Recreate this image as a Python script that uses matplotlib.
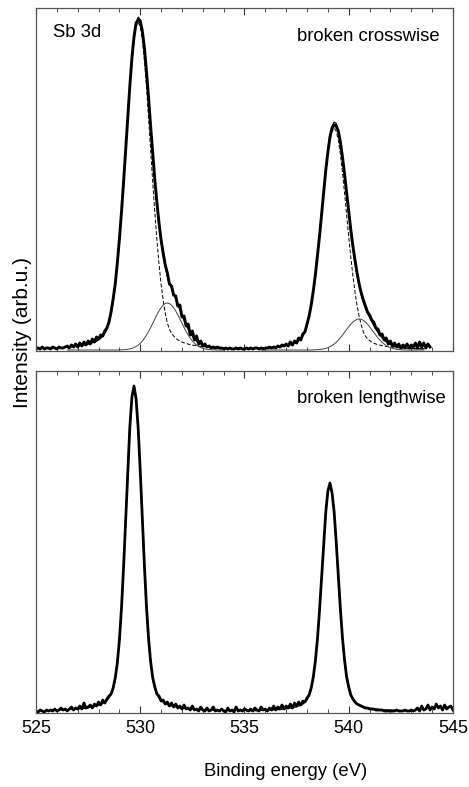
import numpy as np
import matplotlib
matplotlib.use("Agg")
from matplotlib import pyplot as plt
from matplotlib.ticker import MultipleLocator

plt.rcParams['font.family'] = ['Liberation Sans', 'DejaVu Sans']

# Energy grids (eV), 0.1 eV steps
e_top = np.round(np.arange(525.0, 543.95, 0.1), 1)      # measured, top panel
e_win_a = np.round(np.arange(526.5, 534.05, 0.1), 1)    # fit window, 3d5/2 crosswise
e_win_b = np.round(np.arange(535.8, 543.65, 0.1), 1)    # fit window, 3d3/2 crosswise
e_bot = np.round(np.arange(525.0, 545.05, 0.1), 1)      # measured, bottom panel
e_win_c = np.round(np.arange(525.7, 533.75, 0.1), 1)    # fit window, lengthwise
e_win_d = np.round(np.arange(535.1, 543.15, 0.1), 1)

# broken crosswise - measured spectrum (arb.u.)
cross_meas = [
    1, 2, 1, 3, 1, 2, 2, 1, 3, 2, 1, 3, 2, 2, 3,
    4, 2, 5, 3, 6, 3, 7, 4, 8, 5, 9, 6, 11, 8, 13, 11, 15, 14, 19, 22, 28, 38, 51, 66, 87,
    111, 138, 168, 200, 233, 264, 292, 313, 327, 330,
    329, 319, 302, 278, 252, 223, 196, 170, 147, 127, 110, 97, 85, 77, 66, 64, 55, 54, 44, 45,
    33, 34, 24, 26, 15, 19, 10, 14, 6, 9, 4, 6, 3, 4, 2, 3, 2, 3, 2, 2, 1,
    2, 1, 2, 1, 1, 2, 1, 2, 1, 1, 2, 1, 2, 1, 2, 2, 1,
    2, 1, 2, 2, 3, 2, 3, 2, 4, 3, 5, 4, 6, 4, 8, 5, 9, 7, 12, 10, 16, 18, 26, 34, 45,
    59, 75, 94, 114, 136, 158, 180, 198, 213, 222, 225,
    224, 219, 208, 193, 176, 157, 138, 120, 104, 90, 77, 66, 57, 50, 44, 38, 35, 30, 28, 22,
    21, 15, 16, 10, 12, 6, 9, 4, 7, 3, 6, 2, 5, 3, 6, 2, 5, 3, 7, 2, 8, 3, 7,
    2, 6, 3,
]

# broken crosswise - fit components
cross_c1 = [
    2.8, 3.0, 3.3, 3.4, 3.6, 3.9, 4.3, 4.6, 4.9, 5.2, 5.9, 6.6, 7.2, 7.9, 8.9, 10.2, 11.8,
    14.1, 16.7, 20.7, 26.9, 36.7, 49.9, 65.6, 85.9, 109.9, 137.1, 167.3, 199.1, 231.9,
    262.4, 289.3, 310.3, 323.4, 328,
    323.4, 310.3, 289.3, 262.4, 231.9, 199.1, 167.3, 137.1, 109.9, 85.9, 65.6, 49.9, 36.7,
    26.9, 20.7, 16.7, 14.1, 11.8, 10.2, 8.9, 7.9, 7.2, 6.6, 5.9, 5.2, 4.9, 4.6, 4.3, 3.9,
    3.6, 3.4, 3.3, 3.1, 2.9, 2.6, 2.5, 2.4, 2.3, 2.1, 2.0, 2.0,
]
cross_c2 = [
    0, 0, 0, 0, 0, 0, 0, 0, 0, 0, 0, 0, 0, 0, 0, 0, 0, 0, 0, 0, 0, 0, 0, 0, 0,
    0.1, 0.2, 0.3, 0.5, 0.7, 1.1, 1.7, 2.5, 3.5, 4.9, 6.8, 9.0, 11.7, 14.9, 18.5, 22.5,
    26.8, 31.1, 35.3, 39.1, 42.4, 44.9, 46.5, 47, 46.5, 44.9, 42.4, 39.1, 35.3, 31.1, 26.8,
    22.5, 18.5, 14.9, 11.7, 9.0, 6.8, 4.9, 3.5, 2.5, 1.7, 1.1, 0.7, 0.5, 0.3, 0.2, 0.1,
    0, 0, 0, 0,
]
cross_c3 = [
    1.8, 1.9, 2.0, 2.2, 2.3, 2.4, 2.7, 2.9, 3.1, 3.3, 3.6, 4.0, 4.4, 4.9, 5.3, 6.0, 6.9,
    8.0, 9.5, 11.3, 14.0, 18.2, 24.9, 33.7, 44.4, 58.2, 74.4, 92.8, 113.2, 134.8, 157.0,
    177.6, 195.8, 210.0, 218.9, 222,
    218.9, 210.0, 195.8, 177.6, 157.0, 134.8, 113.2, 92.8, 74.4, 58.2, 44.4, 33.7, 24.9,
    18.2, 14.0, 11.3, 9.5, 8.0, 6.9, 6.0, 5.3, 4.9, 4.4, 4.0, 3.6, 3.3, 3.1, 2.9, 2.7, 2.4,
    2.3, 2.2, 2.0, 1.9, 1.8, 1.7, 1.6, 1.5, 1.4, 1.3, 1.3, 1.2, 1.2,
]
cross_c4 = [
    0, 0, 0, 0, 0, 0, 0, 0, 0, 0, 0, 0, 0, 0, 0, 0, 0, 0, 0, 0, 0, 0, 0, 0, 0,
    0.1, 0.2, 0.3, 0.5, 0.7, 1.1, 1.6, 2.4, 3.3, 4.5, 5.9, 7.7, 9.8, 12.2, 14.9, 17.7,
    20.5, 23.3, 25.8, 28.0, 29.6, 30.7, 31, 30.7, 29.6, 28.0, 25.8, 23.3, 20.5, 17.7,
    14.9, 12.2, 9.8, 7.7, 5.9, 4.5, 3.3, 2.4, 1.6, 1.1, 0.7, 0.5, 0.3, 0.2, 0.1,
    0, 0, 0, 0, 0, 0, 0, 0, 0,
]

# broken lengthwise - measured spectrum
length_meas = [
    1, 0, 2, 1, 0, 2, 1,
    2, 1, 3, 1, 2, 4, 2, 3, 1, 3, 5, 2, 4, 3, 6, 3, 9, 4, 5, 7, 4, 8, 6, 10, 7, 12, 9, 13,
    16, 18, 24, 34, 49, 72, 104, 145, 192, 241, 285, 315,
    326,
    313, 284, 241, 193, 146, 105, 73, 50, 34, 25, 18, 16, 11, 12, 8, 10, 6, 9, 5, 8, 4, 6,
    3, 7, 3, 4, 2, 6, 2, 3, 1, 5, 2, 1, 4, 1, 2, 5, 1, 2,
    1, 3, 1, 0, 4, 1, 2, 0, 5, 1, 2, 1, 3,
    2, 1, 3, 1, 4, 2, 1, 5, 2, 3, 1, 4, 2, 6, 2, 5, 3, 7, 3, 6, 4, 8, 4, 9, 6, 10, 7, 11,
    10, 14, 17, 24, 35, 51, 73, 102, 135, 169, 200, 221,
    229,
    219, 200, 170, 136, 103, 74, 52, 35, 25, 17, 13, 10, 8, 7, 6, 5, 4, 4, 3, 3, 3, 2, 2,
    2, 2, 1, 1, 1, 1, 1, 1, 2, 1, 1, 1, 2, 1, 1, 2, 1,
    2, 4, 1, 6, 2, 3, 7, 2, 5, 3, 8, 4, 6, 2, 7, 3, 5, 6, 2,
]

# broken lengthwise - fitted envelopes
length_fit_a = [
    1.6, 1.7, 1.8, 1.8, 1.9, 2.0, 2.1, 2.3, 2.4, 2.5, 2.6, 2.8, 2.9, 3.1, 3.3, 3.4, 3.6,
    3.9, 4.2, 4.7, 5.2, 5.5, 6.2, 6.8, 7.5, 8.5, 9.8, 11.4, 14.0, 17.6, 23.4, 33.2, 48.8,
    72.2, 104.0, 144.6, 191.8, 240.5, 284.4, 314.3,
    325,
    314.3, 284.4, 240.5, 191.8, 144.6, 104.0, 72.2, 48.8, 33.2, 23.4, 17.6, 14.0, 11.4,
    9.8, 8.5, 7.5, 6.8, 6.2, 5.5, 5.2, 4.7, 4.2, 3.9, 3.6, 3.4, 3.3, 3.1, 2.9, 2.8, 2.6,
    2.5, 2.4, 2.3, 2.1, 2.0, 1.9, 1.8, 1.8, 1.7, 1.6,
]
length_fit_b = [
    1.1, 1.2, 1.3, 1.3, 1.4, 1.4, 1.5, 1.6, 1.7, 1.8, 1.8, 2.0, 2.1, 2.2, 2.3, 2.4, 2.5,
    2.8, 3.0, 3.3, 3.6, 3.9, 4.3, 4.8, 5.2, 5.9, 6.8, 8.0, 9.8, 12.3, 16.4, 23.3, 34.2,
    50.6, 73.0, 101.5, 134.5, 168.7, 199.5, 220.5,
    228,
    220.5, 199.5, 168.7, 134.5, 101.5, 73.0, 50.6, 34.2, 23.3, 16.4, 12.3, 9.8, 8.0, 6.8,
    5.9, 5.2, 4.8, 4.3, 3.9, 3.6, 3.3, 3.0, 2.8, 2.5, 2.4, 2.3, 2.2, 2.1, 2.0, 1.8, 1.8,
    1.7, 1.6, 1.5, 1.4, 1.4, 1.3, 1.3, 1.2, 1.1,
]

fig = plt.figure(figsize=(4.69, 7.87), dpi=100)
ax1 = fig.add_axes([0.0768, 0.554, 0.889, 0.4358])
ax2 = fig.add_axes([0.0768, 0.094, 0.889, 0.4346])

# top panel: data + fit
c1 = np.array(cross_c1)
c2 = np.array(cross_c2)
c3 = np.array(cross_c3)
c4 = np.array(cross_c4)
ax1.plot(e_top, cross_meas, color='black', lw=2.1)
ax1.plot(e_win_a, c1 + c2, color='black', lw=0.9)
ax1.plot(e_win_a, c1, color='black', lw=0.7, ls=(0, (4, 2)))
ax1.plot(e_win_a, c2, color='#444444', lw=0.7)
ax1.plot(e_win_b, c3 + c4, color='black', lw=0.9)
ax1.plot(e_win_b, c3, color='black', lw=0.7, ls=(0, (4, 2)))
ax1.plot(e_win_b, c4, color='#444444', lw=0.7)

# bottom panel
ax2.plot(e_bot, length_meas, color='black', lw=2.0)
ax2.plot(e_win_c, length_fit_a, color='black', lw=0.9)
ax2.plot(e_win_d, length_fit_b, color='black', lw=0.9)

ax1.set_ylim(-1, 342)
ax2.set_ylim(-1, 341)

for ax in (ax1, ax2):
    ax.set_xlim(525, 545)
    ax.xaxis.set_major_locator(MultipleLocator(5))
    ax.xaxis.set_minor_locator(MultipleLocator(1))
    ax.tick_params(axis='x', which='both', direction='in', top=True, bottom=True,
                   color='#333333')
    ax.tick_params(axis='x', which='major', length=5, width=0.8, labelsize=13, pad=5)
    ax.tick_params(axis='x', which='minor', length=3, width=0.6)
    ax.set_yticks([])
    for s in ax.spines.values():
        s.set_color('#555555')
        s.set_linewidth(0.9)

ax1.tick_params(axis='x', labelbottom=False)

ax1.text(0.041, 0.929, 'Sb 3d', fontsize=13.3, ha='left', va='center',
         transform=ax1.transAxes)
ax1.text(0.969, 0.918, 'broken crosswise', fontsize=13.3, ha='right', va='center',
         transform=ax1.transAxes)
ax2.text(0.983, 0.921, 'broken lengthwise', fontsize=13.3, ha='right', va='center',
         transform=ax2.transAxes)

fig.text(22 / 469, 1 - 333 / 787, 'Intensity (arb.u.)', rotation=90,
         ha='center', va='center', fontsize=15)
fig.text(286 / 469, 1 - 772 / 787, 'Binding energy (eV)', ha='center', va='center',
         fontsize=13.3)

fig.savefig('out.png', dpi=100)
